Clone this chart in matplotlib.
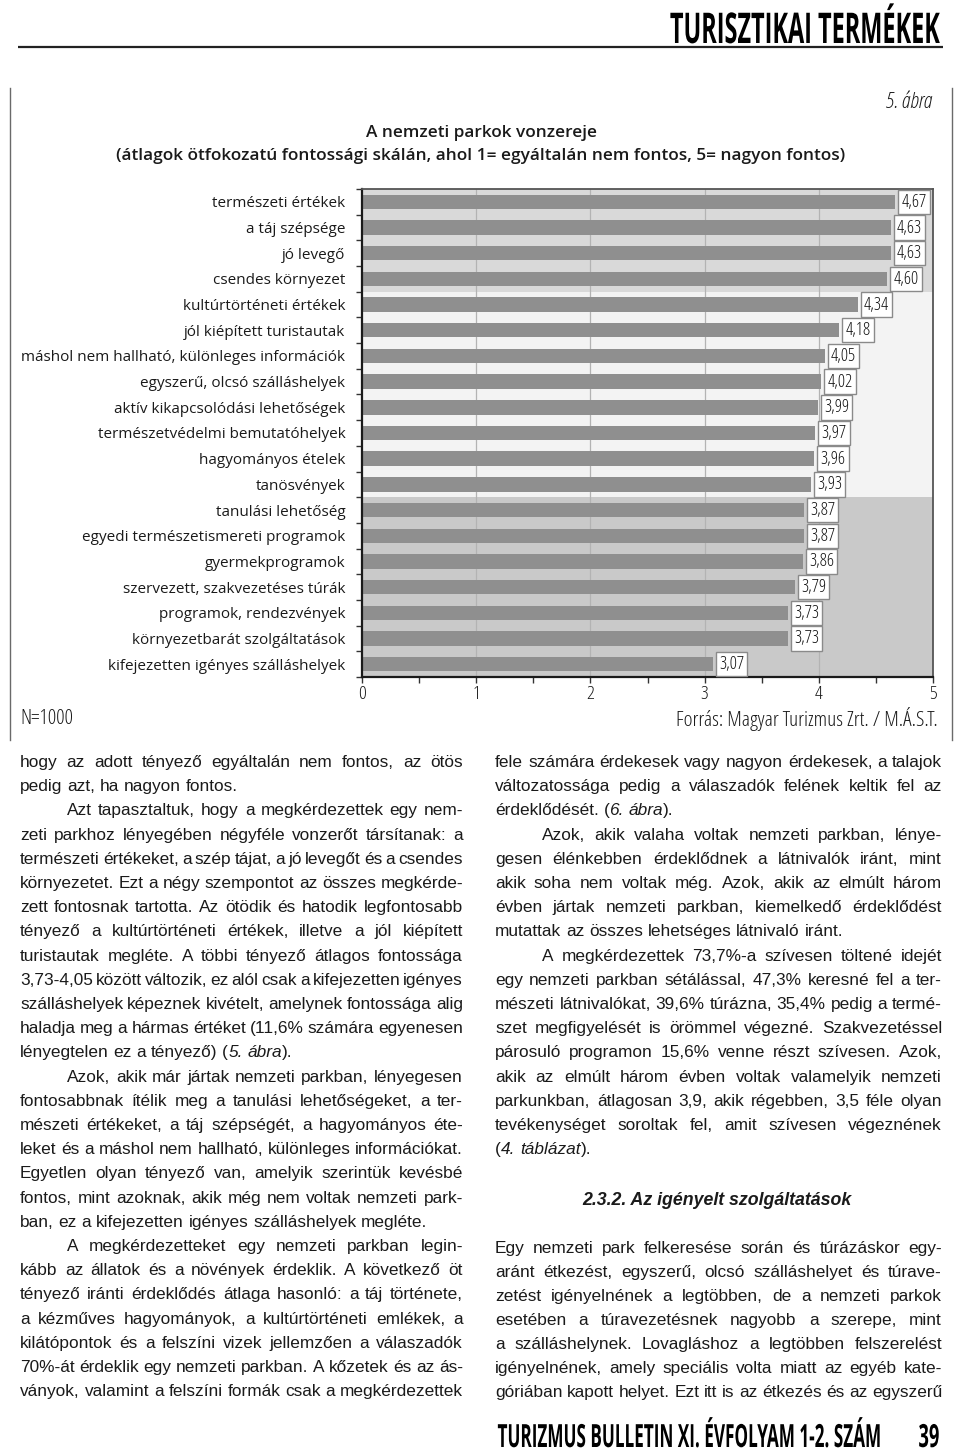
import re
import numpy as np
import matplotlib
matplotlib.use("Agg")
import matplotlib.pyplot as plt
from matplotlib import font_manager as fm
from matplotlib import patheffects as pe
from matplotlib.transforms import Affine2D
from matplotlib.ticker import MultipleLocator, FixedLocator

# ---------------- data ----------------
categories = [
    "természeti értékek", "a táj szépsége", "jó levegő", "csendes környezet",
    "kultúrtörténeti értékek", "jól kiépített turistautak",
    "máshol nem hallható, különleges információk", "egyszerű, olcsó szálláshelyek",
    "aktív kikapcsolódási lehetőségek", "természetvédelmi bemutatóhelyek",
    "hagyományos ételek", "tanösvények", "tanulási lehetőség",
    "egyedi természetismereti programok", "gyermekprogramok",
    "szervezett, szakvezetéses túrák", "programok, rendezvények",
    "környezetbarát szolgáltatások", "kifejezetten igényes szálláshelyek",
]
values = [4.67, 4.63, 4.63, 4.60, 4.34, 4.18, 4.05, 4.02, 3.99, 3.97, 3.96,
          3.93, 3.87, 3.87, 3.86, 3.79, 3.73, 3.73, 3.07]
xtick_values = [0, 1, 2, 3, 4, 5]
band_groups = [4, 8, 7]          # rows in top / middle / bottom background bands

header_text = "TURISZTIKAI TERMÉKEK"
fig_number = "5. ábra"
chart_title = "A nemzeti parkok vonzereje"
chart_subtitle = "(átlagok ötfokozatú fontossági skálán, ahol 1= egyáltalán nem fontos, 5= nagyon fontos)"
n_text = "N=1000"
source_text = "Forrás: Magyar Turizmus Zrt. / M.Á.S.T."
footer_text = "TURIZMUS BULLETIN XI. ÉVFOLYAM 1-2. SZÁM"
page_number = "39"
section_heading = "2.3.2. Az igényelt szolgáltatások"

# '>' = indented first line, '|' = paragraph end (not justified), {..} = italic
left_lines = [
    "hogy az adott tényező egyáltalán nem fontos, az ötös",
    "pedig azt, ha nagyon fontos.|",
    ">Azt tapasztaltuk, hogy a megkérdezettek egy nem-",
    "zeti parkhoz lényegében négyféle vonzerőt társítanak: a",
    "természeti értékeket, a szép tájat, a jó levegőt és a csendes",
    "környezetet. Ezt a négy szempontot az összes megkérde-",
    "zett fontosnak tartotta. Az ötödik és hatodik legfontosabb",
    "tényező a kultúrtörténeti értékek, illetve a jól kiépített",
    "turistautak megléte. A többi tényező átlagos fontossága",
    "3,73-4,05 között változik, ez alól csak a kifejezetten igényes",
    "szálláshelyek képeznek kivételt, amelynek fontossága alig",
    "haladja meg a hármas értéket (11,6% számára egyenesen",
    "lényegtelen ez a tényező) ({5.} {ábra}).|",
    ">Azok, akik már jártak nemzeti parkban, lényegesen",
    "fontosabbnak ítélik meg a tanulási lehetőségeket, a ter-",
    "mészeti értékeket, a táj szépségét, a hagyományos éte-",
    "leket és a máshol nem hallható, különleges információkat.",
    "Egyetlen olyan tényező van, amelyik szerintük kevésbé",
    "fontos, mint azoknak, akik még nem voltak nemzeti park-",
    "ban, ez a kifejezetten igényes szálláshelyek megléte.|",
    ">A megkérdezetteket egy nemzeti parkban legin-",
    "kább az állatok és a növények érdeklik. A következő öt",
    "tényező iránti érdeklődés átlaga hasonló: a táj története,",
    "a kézműves hagyományok, a kultúrtörténeti emlékek, a",
    "kilátópontok és a felszíni vizek jellemzően a válaszadók",
    "70%-át érdeklik egy nemzeti parkban. A kőzetek és az ás-",
    "ványok, valamint a felszíni formák csak a megkérdezettek",
]
right_lines_a = [
    "fele számára érdekesek vagy nagyon érdekesek, a talajok",
    "változatossága pedig a válaszadók felének keltik fel az",
    "érdeklődését. ({6.} {ábra}).|",
    ">Azok, akik valaha voltak nemzeti parkban, lénye-",
    "gesen élénkebben érdeklődnek a látnivalók iránt, mint",
    "akik soha nem voltak még. Azok, akik az elmúlt három",
    "évben jártak nemzeti parkban, kiemelkedő érdeklődést",
    "mutattak az összes lehetséges látnivaló iránt.|",
    ">A megkérdezettek 73,7%-a szívesen töltené idejét",
    "egy nemzeti parkban sétálással, 47,3% keresné fel a ter-",
    "mészeti látnivalókat, 39,6% túrázna, 35,4% pedig a termé-",
    "szet megfigyelését is örömmel végezné. Szakvezetéssel",
    "párosuló programon 15,6% venne részt szívesen. Azok,",
    "akik az elmúlt három évben voltak valamelyik nemzeti",
    "parkunkban, átlagosan 3,9, akik régebben, 3,5 féle olyan",
    "tevékenységet soroltak fel, amit szívesen végeznének",
    "({4.} {táblázat}).|",
]
right_lines_b = [
    "Egy nemzeti park felkeresése során és túrázáskor egy-",
    "aránt étkezést, egyszerű, olcsó szálláshelyet és túrave-",
    "zetést igényelnének a legtöbben, de a nemzeti parkok",
    "esetében a túravezetésnek nagyobb a szerepe, mint",
    "a szálláshelynek. Lovagláshoz a legtöbben felszerelést",
    "igényelnének, amely speciális volta miatt az egyéb kate-",
    "góriában kapott helyet. Ezt itt is az étkezés és az egyszerű",
]

# ---------------- fonts ----------------
_entries = [(f.name, f.stretch) for f in fm.fontManager.ttflist]
_names = {n for n, _ in _entries}


def pick_condensed():
    if "Liberation Sans Narrow" in _names:
        return "Liberation Sans Narrow", "normal"
    pref = ["Open Sans", "Noto Sans", "Roboto", "Lato", "Inter", "DejaVu Sans", "Liberation Sans"]
    for want in ("semi-condensed", "condensed"):
        for fam in pref:
            if (fam, want) in _entries:
                return fam, want
    for n, s in _entries:
        if "Condensed" in n or "Narrow" in n:
            return n, "normal"
    return ("Liberation Sans" if "Liberation Sans" in _names else "DejaVu Sans"), "normal"


FAM, STRETCH = pick_condensed()
FK = dict(family=[FAM, "DejaVu Sans"], stretch=STRETCH)               # condensed face
NFAM = "Open Sans" if "Open Sans" in _names else "DejaVu Sans"
FKN = dict(family=[NFAM, "DejaVu Sans"], stretch="normal")            # humanist, normal width
BFAM = "Liberation Sans" if "Liberation Sans" in _names else NFAM
FKB = dict(family=[BFAM, "DejaVu Sans"], stretch="normal")            # body text
plt.rcParams["font.family"] = [FAM, "DejaVu Sans"]

W, H = 960, 1456
fig = plt.figure(figsize=(W / 100, H / 100), dpi=100)
fig.patch.set_facecolor("white")
page = fig.add_axes([0, 0, 1, 1])
page.set_xlim(0, W)
page.set_ylim(H, 0)
page.axis("off")
renderer = fig.canvas.get_renderer()

_cache = {}


def text_w(s, size, style="normal", weight="normal", fk=None):
    fk = FK if fk is None else fk
    key = (s, size, style, weight, id(fk))
    if key not in _cache:
        t = page.text(0, 0, s, fontsize=size, style=style, weight=weight, **fk)
        _cache[key] = t.get_window_extent(renderer).width
        t.remove()
    return _cache[key]


def fit_size(s, target, style="normal", weight="normal", ref=10.0, fk=None):
    return ref * target / text_w(s, ref, style, weight, fk)


class Squeeze(pe.AbstractPathEffect):
    """Horizontally condense a text's glyphs about its right edge."""

    def __init__(self, sx):
        super().__init__()
        self.sx = sx

    def draw_path(self, renderer, gc, tpath, affine, rgbFace=None):
        xa = tpath.get_extents().x1
        tr = Affine2D().translate(-xa, 0).scale(self.sx, 1).translate(xa, 0) + affine
        renderer.draw_path(gc, tpath, tr, rgbFace)


def squeezed_text(x, y, s, target_w, size):
    nat = text_w(s, size, "normal", "bold")
    sx = min(1.0, target_w / nat)
    page.text(x, y, s, fontsize=size, weight="bold", ha="right", va="baseline",
              color="black", path_effects=[Squeeze(sx)], **FK)


# ---------------- page frame / header ----------------
page.plot([18, 943], [47, 47], color="#222222", lw=1.6, solid_capstyle="butt")
page.plot([10, 10], [88, 740], color="#6a6a6a", lw=1.0)
page.plot([952, 952], [88, 740], color="#6a6a6a", lw=1.0)
squeezed_text(940, 43, header_text, 270, 30.5)

# ---------------- chart ----------------
ax_l, ax_r, ax_t, ax_b = 362, 933, 189, 677
ax = fig.add_axes([ax_l / W, 1 - ax_b / H, (ax_r - ax_l) / W, (ax_b - ax_t) / H])
n = len(categories)
ypos = np.arange(n)
ax.set_xlim(0, 5)
ax.set_ylim(n - 0.5, -0.5)

band_colors = ["#d9d9d9", "#f3f3f3", "#c9c9c9"]
start = -0.5
for g, c in zip(band_groups, band_colors):
    ax.axhspan(start, start + g, color=c, zorder=0, lw=0)
    start += g

for xv in xtick_values[1:-1]:
    ax.axvline(xv, color="#b3b3b3", lw=0.9, zorder=1)

ax.barh(ypos, values, height=0.56, color="#8f8f8f", zorder=2)

val_size = min(13.5, fit_size("4,67", 25))
for yv, v in zip(ypos, values):
    ax.text(v + 0.055, yv, f"{v:.2f}".replace(".", ","), ha="left", va="center",
            fontsize=val_size, zorder=4, color="#111111",
            bbox=dict(boxstyle="square,pad=0.18", fc="white", ec="#8a8a8a", lw=1.0), **FK)

cat_size = fit_size(max(categories, key=lambda s: text_w(s, 10, fk=FKN)), 323, fk=FKN)
ax.set_yticks(ypos)
ax.set_yticklabels(categories, fontsize=cat_size, color="#1a1a1a", **FKN)
ax.yaxis.set_minor_locator(FixedLocator(np.arange(-0.5, n, 1.0)))
ax.tick_params(axis="y", which="major", length=0, pad=12)
ax.tick_params(axis="y", which="minor", length=4, width=1, direction="out", color="#333333")

ax.set_xticks(xtick_values)
ax.set_xticklabels([str(v) for v in xtick_values], fontsize=14, color="#1a1a1a", **FK)
ax.xaxis.set_minor_locator(MultipleLocator(0.5))
ax.tick_params(axis="x", which="both", length=4, width=1, direction="out", color="#333333", pad=2)

for side in ("left", "bottom"):
    ax.spines[side].set_color("#1a1a1a")
    ax.spines[side].set_linewidth(1.6)
for side in ("top", "right"):
    ax.spines[side].set_color("#555555")
    ax.spines[side].set_linewidth(1.3)

# chart captions
page.text(932, 103, fig_number, fontsize=fit_size(fig_number, 46, style="italic"),
          style="italic", ha="right", va="center", color="#1a1a1a", **FK)
sub_size = fit_size(chart_subtitle, 732, weight="semibold")
page.text(481, 133, chart_title, fontsize=sub_size, weight="semibold", ha="center", va="center",
          color="#1a1a1a", **FK)
page.text(481, 156, chart_subtitle, fontsize=sub_size, weight="semibold", ha="center", va="center",
          color="#1a1a1a", **FK)
page.text(20, 719, n_text, fontsize=fit_size(n_text, 53), ha="left", va="center",
          color="#1a1a1a", **FK)
page.text(938, 719, source_text, fontsize=fit_size(source_text, 262), ha="right",
          va="center", color="#1a1a1a", **FK)

# ---------------- body text ----------------
INDENT = 47


def parse_word(w):
    segs = []
    for part in re.split(r"(\{[^}]*\})", w):
        if not part:
            continue
        if part.startswith("{"):
            segs.append((part[1:-1], "italic"))
        else:
            segs.append((part, "normal"))
    return segs


def word_width(segs, size):
    return sum(text_w(s, size, st, fk=FKB) for s, st in segs)


def line_info(raw):
    indent = raw.startswith(">")
    end = raw.endswith("|")
    s = raw.lstrip(">").rstrip("|")
    return indent, end, [parse_word(w) for w in s.split(" ")]


def space_w(size):
    return text_w("n n", size, fk=FKB) - text_w("nn", size, fk=FKB)


columns = [(left_lines, 20, 463), (right_lines_a, 495, 942), (right_lines_b, 495, 942)]
ref = 10.0
worst = 0
for lines, x0, x1 in columns:
    for raw in lines:
        indent, end, words = line_info(raw)
        if end:
            continue
        need = sum(word_width(w, ref) for w in words) + (len(words) - 1) * 0.6 * space_w(ref)
        avail = x1 - x0 - (INDENT if indent else 0)
        worst = max(worst, need / avail)
body_size = min(13.0, ref / worst)


def draw_column(lines, x0, x1, y0, step, size):
    sp = space_w(size)
    for k, raw in enumerate(lines):
        yb = y0 + k * step + 5
        indent, end, words = line_info(raw)
        xs = x0 + (INDENT if indent else 0)
        widths = [word_width(w, size) for w in words]
        if end or len(words) == 1:
            gap = sp
        else:
            gap = (x1 - xs - sum(widths)) / (len(words) - 1)
        x = xs
        for segs, ww in zip(words, widths):
            xx = x
            for s, st in segs:
                page.text(xx, yb, s, fontsize=size, style=st, ha="left",
                          va="baseline", color="#1a1a1a", **FKB)
                xx += text_w(s, size, st, fk=FKB)
            x += ww + gap


draw_column(left_lines, 20, 463, 762, 24.2, body_size)
draw_column(right_lines_a, 495, 942, 762, 24.2, body_size)
draw_column(right_lines_b, 495, 942, 1248, 24.0, body_size)

page.text(717, 1205, section_heading,
          fontsize=fit_size(section_heading, 270, style="italic", weight="bold", fk=FKB),
          style="italic", weight="bold", ha="center", va="baseline", color="#1a1a1a", **FKB)

# ---------------- footer ----------------
squeezed_text(885, 1447, footer_text, 385, 23)
squeezed_text(940, 1447, page_number, 21, 23)

fig.savefig("out.png", dpi=100)
